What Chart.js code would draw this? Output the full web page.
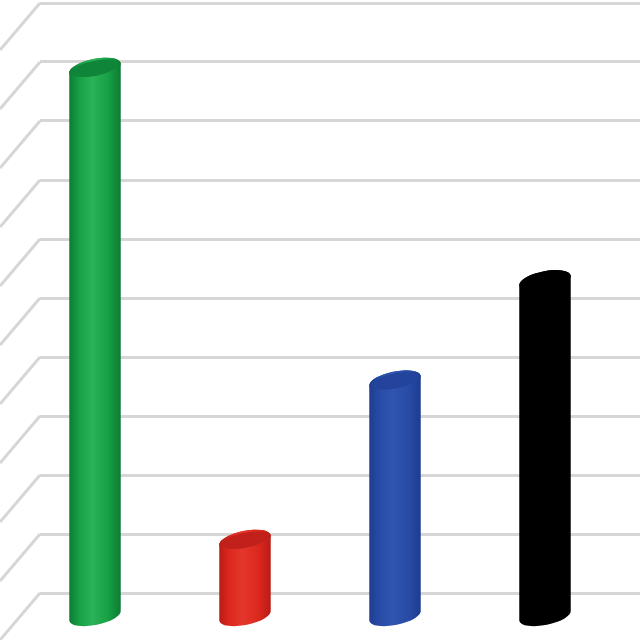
<!DOCTYPE html>
<html>
<head>
<meta charset="utf-8">
<script src="https://cdn.jsdelivr.net/npm/chart.js@4"></script>
<style>
  html, body { margin: 0; padding: 0; background: #fff; }
  #wrap { width: 640px; height: 640px; }
</style>
</head>
<body>
<div id="wrap"><canvas id="myChart"></canvas></div>
<script>
let categories = ["A", "B", "C", "D"]
let values = [9.3, 1.3, 4.0, 5.7]
// edge, main, highlight
let sideColors = [
        ["#0b7a31", "#17a046", "#2cb257"],
        ["#b81b14", "#dc281f", "#e4372c"],
        ["#1d3b90", "#284ca6", "#2f55b0"],
        ["#000000", "#000000", "#000000"]
]
let topColors = ["#0e8538", "#c2211b", "#24449c", "#000000"]
let yTicks = [0, 1, 2, 3, 4, 5, 6, 7, 8, 9, 10]

let depthX = -20
let depthY = 24

// diagonal floor lines on the left wall
const sideWall = {
        id: "sideWall",
        beforeDatasetsDraw(chart) {
                const ctx = chart.ctx
                const y = chart.scales.y
                const left = chart.chartArea.left
                ctx.save()
                ctx.strokeStyle = "#d6d6d6"
                ctx.lineWidth = 3
                yTicks.forEach(function (v) {
                        let py = y.getPixelForValue(v)
                        ctx.beginPath()
                        ctx.moveTo(left, py)
                        ctx.lineTo(left - 40, py + 47)
                        ctx.stroke()
                })
                ctx.restore()
        }
}

// cylinders drawn from the bar elements
const cylinders = {
        id: "cylinders",
        afterDatasetsDraw(chart) {
                const ctx = chart.ctx
                const meta = chart.getDatasetMeta(0)
                ctx.save()
                ctx.translate(depthX, depthY)
                meta.data.forEach(function (bar, i) {
                        const p = bar.getProps(["x", "y", "base", "width"], true)
                        const w = p.width
                        const l = p.x - w / 2
                        const r = p.x + w / 2
                        const ry = 9.5
                        const tilt = -0.2
                        let g = ctx.createLinearGradient(l, 0, r, 0)
                        g.addColorStop(0, sideColors[i][0])
                        g.addColorStop(0.2, sideColors[i][1])
                        g.addColorStop(0.45, sideColors[i][2])
                        g.addColorStop(0.75, sideColors[i][1])
                        g.addColorStop(1, sideColors[i][0])
                        ctx.fillStyle = g
                        ctx.beginPath()
                        ctx.ellipse(p.x, p.y, w / 2, ry, tilt, Math.PI, 0, false)
                        ctx.ellipse(p.x, p.base, w / 2, ry, tilt, 0, Math.PI, false)
                        ctx.closePath()
                        ctx.fill()
                        ctx.beginPath()
                        ctx.ellipse(p.x, p.y, w / 2, ry, tilt, 0, Math.PI * 2)
                        ctx.fillStyle = g
                        ctx.fill()
                        ctx.beginPath()
                        ctx.ellipse(p.x, p.y, w / 2 - 2, ry - 2, tilt, 0, Math.PI * 2)
                        ctx.fillStyle = topColors[i]
                        ctx.fill()
                })
                ctx.restore()
        }
}

const data = {
        labels: categories,
        datasets: [{
                data: values,
                backgroundColor: "rgba(0,0,0,0)",
                borderWidth: 0,
                categoryPercentage: 1,
                barPercentage: 0.35
        }]
}

myChart = new Chart(document.getElementById("myChart"), {
        type: "bar",
        data: data,
        options: {
                responsive: true,
                maintainAspectRatio: false,
                animation: false,
                layout: { padding: { top: 3, left: 40, right: 0, bottom: 47 } },
                plugins: { legend: { display: false }, tooltip: { enabled: false } },
                scales: {
                        x: { display: false },
                        y: {
                                min: 0,
                                max: 10,
                                ticks: { display: false, stepSize: 1 },
                                border: { display: false },
                                grid: { color: "#d6d6d6", lineWidth: 3, drawTicks: false }
                        }
                }
        },
        plugins: [sideWall, cylinders]
})
</script>
</body>
</html>
